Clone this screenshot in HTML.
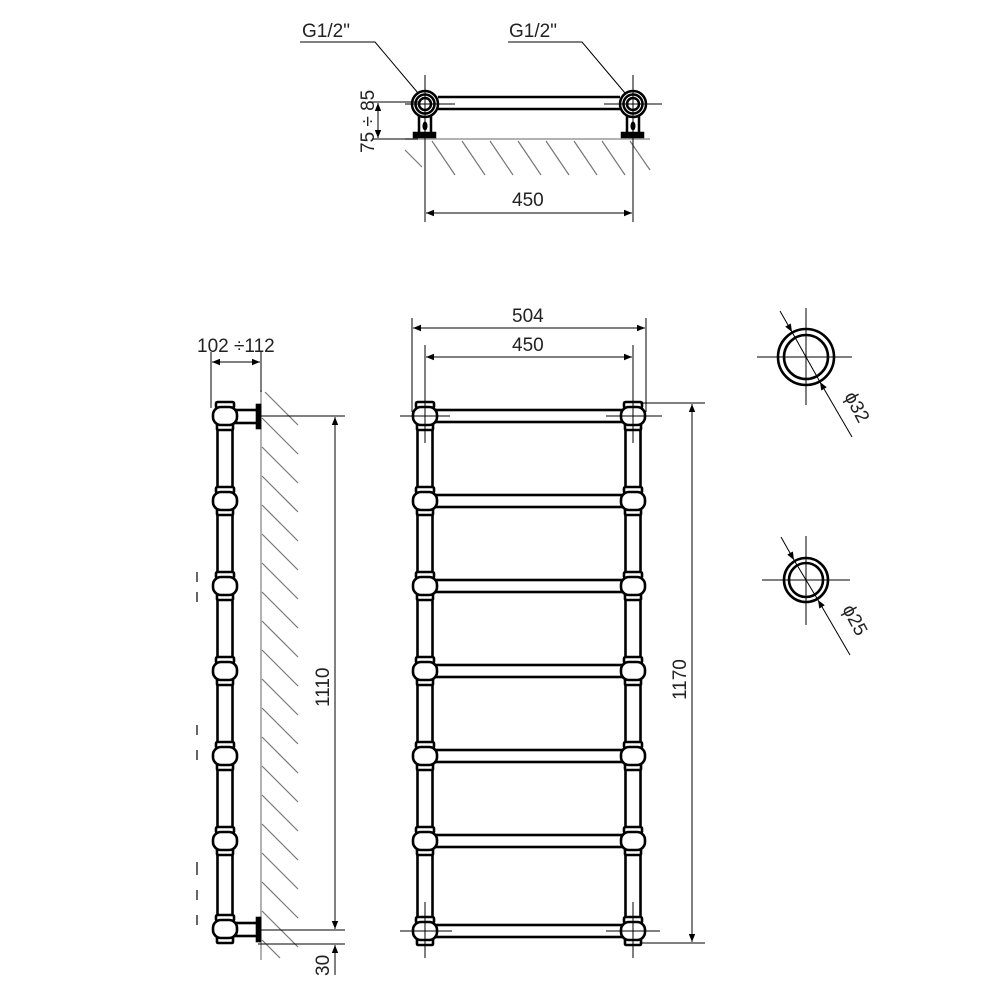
<!DOCTYPE html>
<html><head><meta charset="utf-8"><style>
html,body{margin:0;padding:0;background:#fff;}
svg{display:block;}
text{font-family:"Liberation Sans","DejaVu Sans",sans-serif;font-size:19px;fill:#222;}
</style></head><body>
<svg width="1000" height="1000" viewBox="0 0 1000 1000" xmlns="http://www.w3.org/2000/svg">
<defs>
<marker id="ar" viewBox="0 0 10 10" refX="10" refY="5" markerWidth="14" markerHeight="8" markerUnits="userSpaceOnUse" orient="auto-start-reverse"><path d="M0,1 L10,5 L0,9z" fill="#000"/></marker>
<g id="bulb" fill="#fff" stroke="#000" stroke-width="2.6">
<rect x="-9" y="-14" width="18" height="6" rx="1.5"/>
<rect x="-8" y="8" width="16" height="6" rx="1"/>
<rect x="-12" y="-9" width="24" height="18" rx="8" ry="8"/>
</g>
</defs>

<!-- ===== TOP VIEW ===== -->
<g stroke="#000" fill="none">
<line x1="405" y1="139" x2="650" y2="139" stroke="#999" stroke-width="1.5"/>
<g stroke="#777" stroke-width="1.2">
<line x1="405" y1="150" x2="422" y2="167"/>
<line x1="432" y1="141" x2="455" y2="175"/>
<line x1="462" y1="141" x2="485" y2="175"/>
<line x1="490" y1="141" x2="513" y2="175"/>
<line x1="518" y1="141" x2="541" y2="175"/>
<line x1="546" y1="141" x2="569" y2="175"/>
<line x1="574" y1="141" x2="597" y2="175"/>
<line x1="602" y1="141" x2="625" y2="175"/>
<line x1="630" y1="141" x2="650" y2="170"/>
</g>
<line x1="438" y1="97" x2="620" y2="97" stroke-width="2.5"/>
<line x1="438" y1="109" x2="620" y2="109" stroke-width="2.5"/>
<g stroke-width="2.5" fill="#fff">
<rect x="419" y="112" width="12" height="22"/><rect x="414" y="133" width="21" height="4" fill="#000"/>
<rect x="627" y="112" width="12" height="22"/><rect x="622" y="133" width="21" height="4" fill="#000"/>
<circle cx="425" cy="104" r="13"/><circle cx="425" cy="104" r="9.5"/><circle cx="425" cy="104" r="6"/>
<circle cx="633" cy="104" r="13"/><circle cx="633" cy="104" r="9.5"/><circle cx="633" cy="104" r="6"/>
</g>
<ellipse cx="425" cy="126" rx="2" ry="4" fill="#000"/><ellipse cx="633" cy="126" rx="2" ry="4" fill="#000"/>
<g stroke-width="1">
<line x1="425" y1="75" x2="425" y2="222"/><line x1="633" y1="75" x2="633" y2="222"/>
<line x1="405" y1="104" x2="455" y2="104"/><line x1="604" y1="104" x2="662" y2="104"/>
<line x1="372" y1="102" x2="418" y2="102"/><line x1="372" y1="139" x2="418" y2="139"/>
<line x1="378" y1="103" x2="378" y2="138" marker-start="url(#ar)" marker-end="url(#ar)"/>
<line x1="426" y1="213" x2="632" y2="213" marker-start="url(#ar)" marker-end="url(#ar)"/>
<polyline points="300,42 375,42 418,93"/>
<polyline points="508,42 582,42 625,93"/>
</g>
</g>
<text x="302" y="37">G1/2"</text>
<text x="509" y="37">G1/2"</text>
<text x="512" y="206">450</text>
<text transform="translate(374,153) rotate(-90)">75 ÷ 85</text>

<!-- ===== SIDE VIEW ===== -->
<g stroke="#000" fill="none">
<line x1="261" y1="390" x2="261" y2="960" stroke="#999" stroke-width="1.5"/>
<g stroke="#777" stroke-width="1.2">
<line x1="265" y1="392" x2="298" y2="425"/>
<line x1="262" y1="418" x2="298" y2="454"/>
<line x1="262" y1="447" x2="298" y2="483"/>
<line x1="262" y1="476" x2="298" y2="512"/>
<line x1="262" y1="505" x2="298" y2="541"/>
<line x1="262" y1="534" x2="298" y2="570"/>
<line x1="262" y1="563" x2="298" y2="599"/>
<line x1="262" y1="592" x2="298" y2="628"/>
<line x1="262" y1="621" x2="298" y2="657"/>
<line x1="262" y1="650" x2="298" y2="686"/>
<line x1="262" y1="679" x2="298" y2="715"/>
<line x1="262" y1="708" x2="298" y2="744"/>
<line x1="262" y1="737" x2="298" y2="773"/>
<line x1="262" y1="766" x2="298" y2="802"/>
<line x1="262" y1="795" x2="298" y2="831"/>
<line x1="262" y1="824" x2="298" y2="860"/>
<line x1="262" y1="853" x2="298" y2="889"/>
<line x1="262" y1="882" x2="298" y2="918"/>
<line x1="262" y1="911" x2="298" y2="947"/>
<line x1="262" y1="940" x2="280" y2="958"/>
</g>
<rect x="217.5" y="420" width="15" height="510" fill="#fff" stroke-width="2.6"/>
<g stroke-width="2.6" fill="#fff">
<rect x="236" y="410" width="22" height="13"/><rect x="257" y="405" width="3" height="23" fill="#000"/>
<rect x="236" y="923" width="22" height="13"/><rect x="257" y="918" width="3" height="23" fill="#000"/>
</g>
<use href="#bulb" x="225" y="416"/><use href="#bulb" x="225" y="501"/><use href="#bulb" x="225" y="586"/>
<use href="#bulb" x="225" y="671"/><use href="#bulb" x="225" y="756"/><use href="#bulb" x="225" y="841"/>
<use href="#bulb" x="225" y="929"/>
<g stroke-width="1">
<line x1="211" y1="352" x2="211" y2="408"/><line x1="261" y1="352" x2="261" y2="392"/>
<line x1="212" y1="362" x2="260" y2="362" marker-start="url(#ar)" marker-end="url(#ar)"/>
<line x1="258" y1="416" x2="345" y2="416"/><line x1="258" y1="930" x2="345" y2="930"/><line x1="258" y1="944" x2="345" y2="944"/>
<line x1="335" y1="417" x2="335" y2="929" marker-start="url(#ar)" marker-end="url(#ar)"/>
<line x1="335" y1="975" x2="335" y2="945" marker-end="url(#ar)"/>
<g stroke-width="1.2">
<line x1="197" y1="572" x2="197" y2="582"/><line x1="197" y1="592" x2="197" y2="602"/>
<line x1="197" y1="725" x2="197" y2="735"/><line x1="197" y1="750" x2="197" y2="760"/>
<line x1="197" y1="862" x2="197" y2="875"/><line x1="197" y1="890" x2="197" y2="900"/>
<line x1="197" y1="915" x2="197" y2="925"/>
</g>
</g>
</g>
<text x="197" y="352">102 ÷112</text>
<text transform="translate(329,707) rotate(-90)">1110</text>
<text transform="translate(329,976) rotate(-90)">30</text>

<!-- ===== FRONT VIEW ===== -->
<g stroke="#000" fill="none">
<g stroke-width="2.6" fill="#fff">
<rect x="417.5" y="420" width="15" height="510"/>
<rect x="625.5" y="420" width="15" height="510"/>
<rect x="434" y="410" width="192" height="12"/>
<rect x="434" y="495" width="192" height="12"/>
<rect x="434" y="580" width="192" height="12"/>
<rect x="434" y="665" width="192" height="12"/>
<rect x="434" y="750" width="192" height="12"/>
<rect x="434" y="835" width="192" height="12"/>
<rect x="434" y="925" width="192" height="12"/>
</g>
<use href="#bulb" x="425" y="416"/><use href="#bulb" x="425" y="501"/><use href="#bulb" x="425" y="586"/>
<use href="#bulb" x="425" y="671"/><use href="#bulb" x="425" y="756"/><use href="#bulb" x="425" y="841"/>
<use href="#bulb" x="425" y="931"/>
<use href="#bulb" x="633" y="416"/><use href="#bulb" x="633" y="501"/><use href="#bulb" x="633" y="586"/>
<use href="#bulb" x="633" y="671"/><use href="#bulb" x="633" y="756"/><use href="#bulb" x="633" y="841"/>
<use href="#bulb" x="633" y="931"/>
<g stroke-width="1">
<line x1="400" y1="416" x2="450" y2="416"/><line x1="606" y1="416" x2="662" y2="416"/>
<line x1="425" y1="345" x2="425" y2="443"/><line x1="633" y1="345" x2="633" y2="443"/>
<line x1="400" y1="931" x2="452" y2="931"/><line x1="606" y1="931" x2="660" y2="931"/>
<line x1="425" y1="902" x2="425" y2="958"/><line x1="633" y1="902" x2="633" y2="958"/>
<line x1="412" y1="318" x2="412" y2="412"/><line x1="646" y1="318" x2="646" y2="412"/>
<line x1="413" y1="328" x2="645" y2="328" marker-start="url(#ar)" marker-end="url(#ar)"/>
<line x1="426" y1="357" x2="632" y2="357" marker-start="url(#ar)" marker-end="url(#ar)"/>
<line x1="640" y1="403" x2="705" y2="403"/><line x1="640" y1="943" x2="705" y2="943"/>
<line x1="692" y1="404" x2="692" y2="942" marker-start="url(#ar)" marker-end="url(#ar)"/>
</g>
</g>
<text x="512" y="322">504</text>
<text x="512" y="351">450</text>
<text transform="translate(686,700) rotate(-90)">1170</text>

<!-- ===== SECTIONS ===== -->
<g stroke="#000" fill="none">
<circle cx="806" cy="357" r="28" stroke-width="2.6"/><circle cx="806" cy="357" r="22" stroke-width="2.6"/>
<circle cx="806" cy="580" r="22" stroke-width="2.6"/><circle cx="806" cy="580" r="17" stroke-width="2.6"/>
<g stroke-width="1">
<line x1="757" y1="357" x2="852" y2="357"/><line x1="806" y1="308" x2="806" y2="405"/>
<line x1="780" y1="311" x2="792" y2="332" marker-end="url(#ar)"/>
<line x1="852" y1="437" x2="820" y2="382" marker-end="url(#ar)"/>
<line x1="792" y1="332" x2="820" y2="382"/>
<line x1="762" y1="580" x2="850" y2="580"/><line x1="806" y1="536" x2="806" y2="625"/>
<line x1="781" y1="537" x2="794" y2="560" marker-end="url(#ar)"/>
<line x1="850" y1="655" x2="818" y2="600" marker-end="url(#ar)"/>
<line x1="794" y1="560" x2="818" y2="600"/>
</g>
</g>
<text transform="translate(844,396) rotate(62)">ϕ32</text>
<text transform="translate(842,609) rotate(62)">ϕ25</text>
</svg>
</body></html>
